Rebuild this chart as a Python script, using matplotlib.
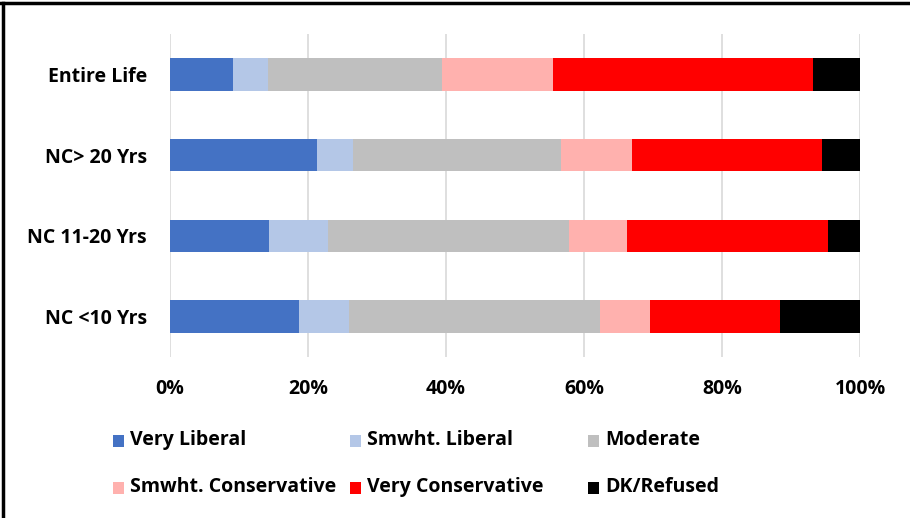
import matplotlib
matplotlib.use('Agg')
import matplotlib.pyplot as plt
from matplotlib.patches import Rectangle
from matplotlib.lines import Line2D
import numpy as np

plt.rcParams['font.family'] = ['Open Sans', 'DejaVu Sans']
plt.rcParams['font.weight'] = 'bold'

# groups from top to bottom
groups = ['Entire Life', 'NC> 20 Yrs', 'NC 11-20 Yrs', 'NC <10 Yrs']
series = ['Very Liberal', 'Smwht. Liberal', 'Moderate',
          'Smwht. Conservative', 'Very Conservative', 'DK/Refused']
colors = ['#4472C4', '#B4C7E7', '#BFBFBF', '#FFB1AE', '#FF0000', '#000000']

# shares (%), one list per series, order as groups
very_lib = [9.1, 21.3, 14.4, 18.7]
smwht_lib = [5.1, 5.2, 8.5, 7.3]
moderate = [25.2, 30.2, 34.9, 36.3]
smwht_con = [16.1, 10.3, 8.5, 7.3]
very_con = [37.7, 27.5, 29.0, 18.8]
dk_ref = [6.8, 5.5, 4.7, 11.6]
values = [very_lib, smwht_lib, moderate, smwht_con, very_con, dk_ref]

fs = 14

fig = plt.figure(figsize=(9.1, 5.18), dpi=100)
ax = fig.add_axes([170/910, 1 - 357/518, 690/910, 323/518])

y = np.arange(len(groups))
left = np.zeros(len(groups))
for vals, col, name in zip(values, colors, series):
    v = np.array(vals) / 100.0
    ax.barh(y, v, left=left, height=0.4, color=col, label=name, zorder=3)
    left += v

ax.set_xlim(0, 1)
ax.set_ylim(len(groups) - 0.5, -0.5)
ax.set_xticks(np.arange(0, 1.01, 0.2))
ax.set_xticklabels(['0%', '20%', '40%', '60%', '80%', '100%'])
ax.set_yticks(y)
ax.set_yticklabels(groups)
ax.tick_params(axis='both', length=0, labelsize=fs)
ax.tick_params(axis='x', pad=16)
ax.tick_params(axis='y', pad=16.5)
for lab in ax.get_xticklabels() + ax.get_yticklabels():
    lab.set_fontweight('bold')
ax.grid(axis='x', color='#D9D9D9', linewidth=1.2, zorder=0)
for s in ax.spines.values():
    s.set_visible(False)

# legend drawn in figure pixels, row by row
leg_x = [113, 350, 588]
leg_y = [441, 488]
for i, (name, col) in enumerate(zip(series, colors)):
    cx = leg_x[i % 3]
    cy = leg_y[i // 3]
    fig.patches.append(Rectangle((cx / 910, 1 - (cy + 6) / 518), 11 / 910, 12 / 518,
                                 transform=fig.transFigure, facecolor=col,
                                 edgecolor='none'))
    fig.text((cx + 17) / 910, 1 - (cy - 1) / 518, name, fontsize=fs,
             fontweight='bold', va='center', ha='left')

# frame at top and left
fig.lines.append(Line2D([0, 1], [1 - 3/518, 1 - 3/518], transform=fig.transFigure,
                        color='black', linewidth=2.5))
fig.lines.append(Line2D([3/910, 3/910], [0, 1 - 3/518], transform=fig.transFigure,
                        color='black', linewidth=2.5))

fig.savefig('out.png', dpi=100)
